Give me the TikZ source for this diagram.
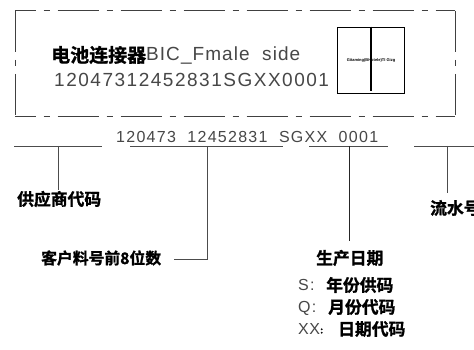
\documentclass[tikz,border=0pt]{standalone}
\usepackage{fontspec}
\setmainfont{Liberation Sans}
\newfontfamily\cjk{Noto Sans CJK SC Bold}[FakeBold=1.2]
\newfontfamily\latn{Liberation Sans}
\tikzset{
  ln/.style={draw=black!70,line width=0.8pt},
  frameedge/.style={draw=black!75,line width=0.8pt,dash pattern=on 41pt off 8pt on 6pt off 8pt},
  cn/.style={inner sep=0pt,anchor=west,text=black,font=\cjk\fontsize{16.8}{17}\selectfont},
  lt/.style 2 args={inner sep=0pt,anchor=base west,text=black!72,font=\latn\addfontfeature{LetterSpace=#2}\fontsize{#1}{#1}\selectfont},
}
\begin{document}
\begin{tikzpicture}[x=1pt,y=-1pt]
\useasboundingbox (0,0) rectangle (474,350);
\fill[white] (0,0) rectangle (474,350);
% frame
\coordinate (f1) at (15,10);
\coordinate (f2) at (455,10);
\coordinate (f3) at (455,116);
\coordinate (f4) at (15,116);
\draw[frameedge,dash phase=20.5pt] (f1) -- (f2);
\draw[frameedge,dash phase=20.5pt] (f4) -- (f3);
\draw[frameedge,dash phase=-1pt] (f1) -- (f4);
\draw[frameedge,dash phase=-1pt] (f2) -- (f3);
% label text
\node[cn,font=\cjk\fontsize{19}{19}\selectfont] (t1) at (51,55) {电池连接器};
\node[lt={19}{5.5}] (t2) at (146,60.5) {BIC\_Fmale\ \ side};
\node[lt={19}{8}] (t3) at (54,87) {12047312452831SGXX0001};
% small box
\node[draw=black,line width=0.7pt,minimum width=67pt,minimum height=66pt,inner sep=0pt] (box) at (371,60) {};
\coordinate (boxb) at (371,91);
\draw[line width=1.6pt] (box.north) -- (boxb);
\node[inner sep=0pt,font=\fontsize{4}{4}\selectfont\bfseries] (tiny) at (371,60.5) {Gitaming(BHotele)TI Gizg};
% code line
\node[lt={16}{8}] (code) at (116,142.5) {120473\ \ 12452831\ \ SGXX\ \ 0001};
% underlines
\coordinate (a1) at (14,146); \coordinate (a2) at (102,146);
\coordinate (b1) at (130,146); \coordinate (b2) at (283,146);
\coordinate (c1) at (309,146); \coordinate (c2) at (388,146);
\coordinate (d1) at (414,146); \coordinate (d2) at (474,146);
\draw[ln] (a1) -- (a2);
\draw[ln] (b1) -- (b2);
\draw[ln] (c1) -- (c2);
\draw[ln] (d1) -- (d2);
% labels
\node[cn] (sup) at (17,199) {供应商代码};
\node[cn,font=\cjk\fontsize{15.8}{16}\selectfont] (cust) at (41,258) {客户料号前8位数};
\node[cn] (flow) at (430,208) {流水号};
\node[cn] (date) at (316,258) {生产日期};
\node[lt={16}{8}] (s) at (298,290.5) {S:};
\node[cn] (s2) at (326,285) {年份供码};
\node[lt={16}{8}] (q) at (298,312.5) {Q:};
\node[cn] (q2) at (328,307) {月份代码};
\node[lt={16}{4}] (x) at (298,334.5) {XX};
\node[cn,font=\cjk\fontsize{9}{9}\selectfont] (xc) at (320,331) {:};
\node[cn] (x2) at (338,329) {日期代码};
% leaders
\coordinate (v1) at (58,146); \coordinate (v1e) at (58,190);
\draw[ln] (v1) -- (v1e);
\coordinate (v2) at (207,146); \coordinate (v2c) at (207,259); \coordinate (v2e) at (174,259);
\draw[ln] (v2) -- (v2c) -- (v2e);
\coordinate (v3) at (349,146); \coordinate (v3e) at (349,241);
\draw[ln,draw=black!85] (v3) -- (v3e);
\coordinate (v4) at (447,146); \coordinate (v4e) at (447,193);
\draw[ln] (v4) -- (v4e);
\end{tikzpicture}
\end{document}
